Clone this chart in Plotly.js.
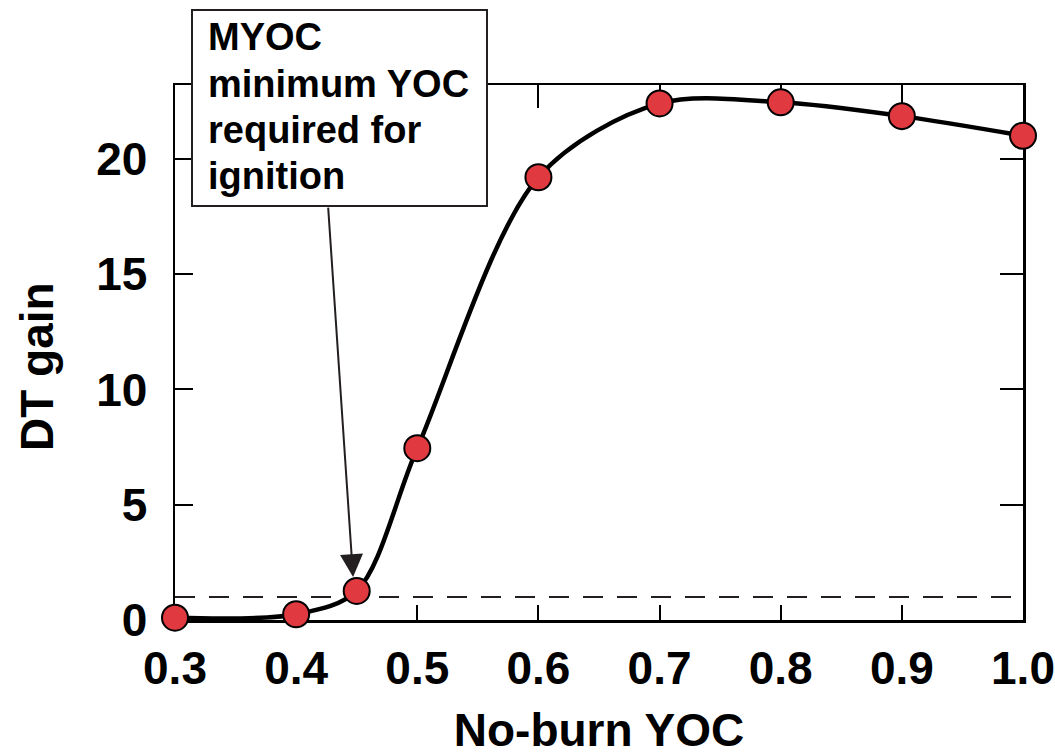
<!DOCTYPE html>
<html>
<head>
<meta charset="utf-8">
<script src="https://cdn.plot.ly/plotly-3.0.1.min.js"></script>
<style>html,body{margin:0;padding:0;background:#fff;}#chart{width:1055px;height:756px;}</style>
</head>
<body>
<div id="chart"></div>
<script>
// Data
const noBurnYOC = [0.3, 0.4, 0.45, 0.5, 0.6, 0.7, 0.8, 0.9, 1.0];
const dtGain    = [0.1, 0.25, 1.26, 7.45, 19.2, 22.4, 22.45, 21.85, 21.0];
const xTickVals = [0.3, 0.4, 0.5, 0.6, 0.7, 0.8, 0.9, 1.0];
const xTickText = ['0.3', '0.4', '0.5', '0.6', '0.7', '0.8', '0.9', '1.0'];
const yTickVals = [0, 5, 10, 15, 20];
const ignitionThreshold = 1;
const myocPoint = {x: 0.447, y: 1.86};
const boxLines = ['MYOC', 'minimum YOC', 'required for', 'ignition'];

const FONT = '"Liberation Sans", Arial, Helvetica, sans-serif';
const INK = '#000000';
const GREY = '#231f20';

// pixel helpers for annotation placement (plot area: x 175..1023, y 85..620)
const PL = 175, PW = 848, PB = 620, PH = 535;
const px = v => (v - PL) / PW;
const py = v => (PB - v) / PH;

const traces = [
  {
    x: noBurnYOC, y: dtGain, type: 'scatter', mode: 'lines+markers',
    line: {color: INK, width: 4.5, shape: 'spline', smoothing: 0.9},
    marker: {size: 26, color: '#e03a40', line: {color: INK, width: 2}},
    hoverinfo: 'x+y', showlegend: false, cliponaxis: false
  },
  {
    x: noBurnYOC, y: dtGain, xaxis: 'x2', yaxis: 'y2', type: 'scatter', mode: 'markers',
    marker: {opacity: 0}, hoverinfo: 'skip', showlegend: false
  }
];

const tickFont = {family: FONT, size: 46, color: INK, weight: 'bold'};
const titleFont = {family: FONT, size: 46, color: INK, weight: 'bold'};

const annotations = [
  {
    xref: 'x', yref: 'y', x: myocPoint.x, y: myocPoint.y,
    text: '', showarrow: true, ax: -25, ay: -371, axref: 'pixel', ayref: 'pixel',
    arrowhead: 2, arrowsize: 2.3, arrowwidth: 2, arrowcolor: GREY, standoff: 0
  },
  {
    xref: 'paper', yref: 'paper', x: px(37), y: py(367), xanchor: 'center', yanchor: 'middle',
    text: 'DT gain', textangle: -90, showarrow: false, font: titleFont
  }
];
const lineCenters = [37, 84, 130, 176];
boxLines.forEach((t, i) => {
  annotations.push({
    xref: 'paper', yref: 'paper', x: px(206), y: py(lineCenters[i]), xanchor: 'left', yanchor: 'middle',
    text: t, showarrow: false, align: 'left',
    font: {family: FONT, size: 38, color: INK, weight: 'bold'}
  });
});

const layout = {
  width: 1055, height: 756,
  margin: {l: 175, r: 32, t: 85, b: 136},
  paper_bgcolor: '#ffffff', plot_bgcolor: '#ffffff',
  showlegend: false,
  xaxis: {
    range: [0.3, 1.0], tickvals: xTickVals, ticktext: xTickText,
    ticks: 'inside', ticklen: 15, tickwidth: 2, tickcolor: INK,
    showline: true, linecolor: INK, linewidth: 2.5, mirror: true,
    showgrid: false, zeroline: false, tickfont: tickFont,
    ticklabelstandoff: 6, layer: 'below traces',
    title: {text: 'No-burn YOC', font: titleFont, standoff: 26}
  },
  xaxis2: {
    range: [0.3, 1.0], tickvals: xTickVals, overlaying: 'x', side: 'top', anchor: 'y2',
    ticks: 'inside', ticklen: 23, tickwidth: 2, tickcolor: INK, layer: 'below traces',
    showticklabels: false, showline: false, showgrid: false, zeroline: false
  },
  yaxis: {
    range: [0, 23.2], tickvals: yTickVals,
    ticks: 'inside', ticklen: 18, tickwidth: 2, tickcolor: INK,
    showline: true, linecolor: INK, linewidth: 2.5, mirror: true,
    showgrid: false, zeroline: false, tickfont: tickFont,
    ticklabelstandoff: 16, layer: 'below traces'
  },
  yaxis2: {
    range: [0, 23.2], tickvals: yTickVals, overlaying: 'y', side: 'right', anchor: 'x2',
    ticks: 'inside', ticklen: 23, tickwidth: 2, tickcolor: INK, layer: 'below traces',
    showticklabels: false, showline: false, showgrid: false, zeroline: false
  },
  shapes: [
    {type: 'line', xref: 'paper', yref: 'y', x0: 0, x1: 1, y0: ignitionThreshold, y1: ignitionThreshold,
     line: {color: GREY, width: 2, dash: '20px,14px'}, layer: 'below'},
    {type: 'rect', xref: 'paper', yref: 'paper', x0: px(192), x1: px(487), y0: py(206), y1: py(10),
     line: {color: GREY, width: 2}, fillcolor: '#ffffff', layer: 'above'}
  ],
  annotations: annotations
};

Plotly.newPlot('chart', traces, layout, {displayModeBar: false, staticPlot: true});
</script>
</body>
</html>
